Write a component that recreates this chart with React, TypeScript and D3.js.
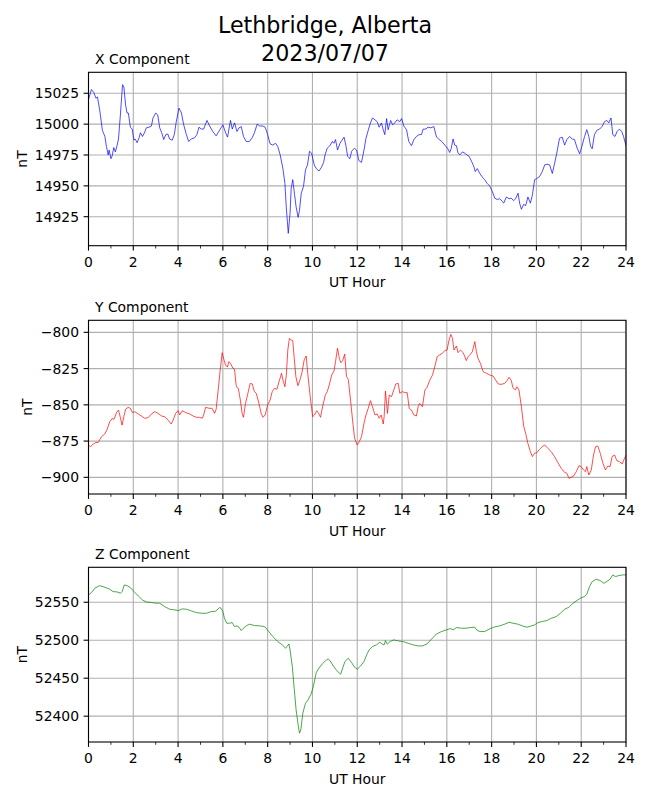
import React from "react";
import * as d3 from "d3";

const WIDTH = 650;
const HEIGHT = 800;

const xHours = [0,0.13,0.24,0.33,0.4,0.5,0.62,0.73,0.8,0.88,0.92,1.0,1.05,1.13,1.2,1.28,1.34,1.43,1.52,1.58,1.66,1.72,1.78,1.87,1.95,2.03,2.08,2.17,2.26,2.32,2.41,2.5,2.58,2.7,2.81,2.88,3.0,3.09,3.18,3.27,3.36,3.45,3.54,3.62,3.74,3.83,3.92,4.04,4.15,4.25,4.37,4.47,4.59,4.74,4.84,4.93,5.04,5.14,5.29,5.41,5.55,5.7,5.85,6.0,6.12,6.21,6.34,6.42,6.52,6.63,6.72,6.82,6.92,7.04,7.19,7.31,7.41,7.53,7.64,7.79,7.89,8.0,8.11,8.23,8.35,8.45,8.56,8.68,8.77,8.83,8.92,9.0,9.05,9.12,9.2,9.27,9.36,9.42,9.5,9.6,9.69,9.78,9.87,9.96,10.08,10.17,10.29,10.4,10.5,10.56,10.66,10.78,10.89,10.96,11.03,11.12,11.23,11.32,11.41,11.5,11.57,11.67,11.75,11.87,11.97,12.07,12.19,12.3,12.39,12.49,12.59,12.68,12.79,12.89,12.98,13.08,13.16,13.23,13.31,13.38,13.49,13.58,13.68,13.78,13.9,13.98,14.08,14.2,14.3,14.42,14.53,14.64,14.76,14.87,14.94,15.06,15.16,15.28,15.42,15.54,15.66,15.77,15.91,16.03,16.13,16.2,16.28,16.35,16.43,16.5,16.58,16.7,16.8,16.9,16.99,17.1,17.2,17.27,17.36,17.47,17.59,17.69,17.8,17.91,18.03,18.14,18.24,18.36,18.47,18.54,18.66,18.78,18.88,18.98,19.07,19.18,19.25,19.33,19.43,19.52,19.62,19.73,19.82,19.92,20.02,20.14,20.26,20.37,20.47,20.59,20.71,20.81,20.92,21.03,21.15,21.26,21.36,21.48,21.6,21.7,21.82,21.93,22.03,22.15,22.25,22.34,22.42,22.49,22.59,22.7,22.82,22.93,23.04,23.14,23.23,23.33,23.41,23.51,23.6,23.71,23.81,23.89,24.0];
const xValues = [15020,15028,15025.5,15021,15022,15011.5,14995,14990,14982,14975,14979,14972,14974,14981,14977.5,14983,14988,15009,15032,15030,15015,15009,15009,14997.5,14996,14987,14988,14985,14989,14993,14990,14993,14997,14997.5,14998.5,15005,15009,15007.5,14997,14993,14987.5,14991.5,14992,14988,14987,14991.5,15002,15013,15009,14999.5,14991.5,14986,14988,14989,14991.5,14997.5,14996,14996,15003,14998.5,14994,14990.5,14995,14999.5,14993,14989.5,15003,14996,15001,14994,14997,14998,14990,14986,14986,14989,14993,15000,14998.5,14998.5,14997.5,14991.5,14984,14983,14984.5,14982,14975,14964,14952,14933,14911.5,14928,14948,14955,14943,14933,14924.5,14930,14944,14949.5,14963,14967,14978,14976.5,14967,14964,14962,14965,14969,14975,14980.5,14982.5,14986,14984.5,14987.5,14979,14984.5,14987,14989.5,14982,14974,14972,14978,14980.5,14979,14970.5,14969,14979,14988.5,14995,15001,15005,15003.5,15002,14997.5,15001,14995.5,14991.5,15004.5,14995.5,15003,14999.5,15001,15003.5,15002,15004.5,14998.5,14995.5,14986,14982.5,14987.5,14990,14991.5,14991.5,14996,14996,14997.5,14997,14998,14989.5,14987.5,14986,14983,14980.5,14977,14980.5,14988,14983,14982.5,14976.5,14975,14977.5,14976.5,14975,14974,14970,14966,14961.5,14964,14960,14957,14955,14952,14950,14945.5,14940,14939,14939.5,14937.5,14936,14941,14939.5,14940,14938,14939.5,14944,14936,14931,14935,14934,14941,14936,14942.5,14955,14956,14957.5,14961.5,14967,14967.5,14967,14960,14968,14977.5,14988.5,14989.5,14983,14987.5,14990,14988,14987.5,14980.5,14976,14982,14990,14995.5,14990,14982,14980,14991.5,14995,14996,14998,15002,15003,15001,15005,14991.5,14990,14994,14996,14994,14990,14982.5];

const yHours = [0,0.09,0.21,0.33,0.43,0.58,0.73,0.83,0.95,1.07,1.14,1.25,1.34,1.43,1.5,1.58,1.66,1.77,1.87,1.96,2.07,2.22,2.36,2.51,2.66,2.81,2.96,3.11,3.26,3.4,3.55,3.69,3.77,3.89,4.0,4.07,4.19,4.34,4.52,4.67,4.81,4.96,5.08,5.14,5.23,5.38,5.52,5.63,5.7,5.79,5.88,5.97,6.05,6.12,6.2,6.27,6.34,6.45,6.52,6.6,6.69,6.78,6.86,6.92,7.01,7.1,7.22,7.31,7.41,7.49,7.61,7.71,7.79,7.89,8.0,8.11,8.2,8.31,8.41,8.53,8.62,8.68,8.77,8.83,8.9,8.97,9.05,9.12,9.18,9.26,9.35,9.45,9.54,9.63,9.72,9.79,9.9,10.01,10.09,10.19,10.28,10.36,10.46,10.57,10.66,10.75,10.86,10.96,11.03,11.12,11.2,11.27,11.35,11.44,11.52,11.6,11.7,11.79,11.88,12.0,12.09,12.19,12.3,12.39,12.49,12.59,12.68,12.79,12.89,12.98,13.07,13.16,13.2,13.26,13.31,13.35,13.43,13.53,13.63,13.72,13.83,13.9,14.02,14.12,14.23,14.32,14.42,14.53,14.64,14.72,14.79,14.91,15.02,15.12,15.24,15.36,15.46,15.57,15.68,15.8,15.91,16.01,16.1,16.18,16.25,16.32,16.43,16.5,16.61,16.73,16.87,16.95,17.05,17.14,17.25,17.32,17.39,17.5,17.62,17.77,17.91,18.06,18.18,18.29,18.43,18.58,18.69,18.78,18.88,18.95,19.06,19.13,19.22,19.33,19.43,19.52,19.62,19.73,19.82,19.92,20.02,20.14,20.26,20.37,20.51,20.66,20.81,20.96,21.11,21.26,21.36,21.45,21.55,21.66,21.78,21.9,22.0,22.1,22.19,22.25,22.34,22.45,22.55,22.64,22.74,22.85,22.97,23.08,23.19,23.29,23.38,23.49,23.59,23.71,23.83,23.89,24.0];
const yValues = [-877.7,-878.9,-877,-876,-876,-872,-870,-867,-861.6,-859.3,-860,-855.4,-853.6,-859.3,-864,-858,-853,-851.7,-852.4,-855.4,-854.7,-856.3,-857.7,-859.3,-858.9,-856.3,-854.7,-855.9,-857.7,-858.2,-860.5,-863.2,-860.9,-855.9,-854,-857,-854,-855.4,-856.3,-857.7,-858.6,-858.6,-859.3,-857,-851.7,-852.4,-852.4,-855.9,-853,-839.8,-826,-814,-819,-822.5,-824,-820.2,-821.4,-824.8,-825.5,-837.5,-838.6,-846.7,-855.9,-858.6,-849,-843.2,-835.2,-835.6,-840.9,-842,-849,-855.9,-858.6,-857,-850,-846.7,-841,-838.6,-839.3,-832.9,-828.3,-832.9,-837.5,-830,-812.2,-804.1,-805.3,-805.7,-816.8,-830.6,-836.8,-832.4,-827.1,-819,-816.3,-828.3,-844.4,-858.2,-857,-854,-855.9,-858.6,-850.8,-843.5,-840.9,-836.3,-829.4,-826.7,-820.2,-811,-818,-821,-819.5,-815,-830.6,-832.4,-846.7,-860.5,-873.1,-877.7,-875.4,-872,-862.8,-857,-852.4,-847.1,-851.3,-857,-856.3,-859.3,-857,-863.2,-858.2,-840.5,-849,-855.9,-843.2,-844.4,-839.8,-835.6,-835.2,-842,-840.9,-841.6,-841.6,-852.4,-853.6,-857,-857.7,-851.3,-849,-851.3,-839.8,-837.9,-832.9,-829.4,-823.7,-816.8,-815.6,-814.5,-812.6,-812.2,-805.3,-801.4,-804.1,-812.2,-809.4,-814,-812.2,-814,-819.5,-816.8,-815.2,-813.3,-806.4,-813.3,-817.9,-821.4,-827.1,-828.3,-829.4,-830.1,-832.9,-835.6,-835.9,-835.2,-833.3,-831,-833.3,-838.2,-839.8,-837.5,-839.8,-851.3,-864.6,-869.7,-876.6,-882.3,-885.7,-883.4,-883,-880.7,-878.9,-877.7,-880,-882.3,-885.7,-889.9,-893.8,-896.6,-897.2,-900.7,-900,-899.1,-896.1,-892,-892.6,-894.9,-896.1,-892.6,-898.4,-894.9,-884.6,-878.9,-878.4,-883.4,-890.3,-894.9,-892.2,-892.6,-885.7,-884.6,-888.5,-889.2,-890.8,-888.5,-884.6];

const zHours = [0,0.13,0.28,0.5,0.73,0.95,1.1,1.28,1.43,1.5,1.6,1.72,1.87,2.03,2.22,2.41,2.58,2.81,3.03,3.18,3.4,3.62,3.85,4.0,4.19,4.37,4.59,4.81,5.04,5.26,5.48,5.68,5.85,5.92,6.0,6.07,6.17,6.29,6.42,6.52,6.63,6.72,6.82,6.92,7.04,7.19,7.41,7.64,7.86,8.05,8.23,8.45,8.65,8.8,8.86,8.95,9.0,9.1,9.19,9.27,9.36,9.42,9.48,9.57,9.69,9.81,9.94,10.04,10.17,10.29,10.44,10.59,10.7,10.78,10.93,11.08,11.26,11.35,11.45,11.6,11.75,11.85,12.0,12.15,12.3,12.42,12.53,12.68,12.86,13.01,13.13,13.2,13.26,13.34,13.46,13.63,13.83,14.05,14.27,14.5,14.72,14.91,15.12,15.31,15.54,15.76,15.98,16.16,16.28,16.43,16.66,16.87,17.05,17.25,17.36,17.5,17.69,17.88,18.09,18.36,18.58,18.78,18.95,19.18,19.37,19.58,19.77,19.92,20.07,20.26,20.47,20.66,20.89,21.07,21.26,21.45,21.63,21.81,21.96,22.15,22.25,22.37,22.49,22.67,22.85,23.01,23.14,23.29,23.41,23.53,23.68,23.86,24.0];
const zValues = [52559.6,52562.7,52568.4,52571.9,52569.7,52567.1,52564,52563.6,52561.8,52564,52572.8,52571.9,52569.3,52564,52558.3,52553,52550.4,52549.6,52548.7,52548.7,52544.3,52540.8,52539.9,52539,52541.2,52540.8,52538.6,52536.4,52535.5,52535.5,52537.7,52538.2,52543,52542.1,52537.7,52528.9,52522.4,52522.4,52523.2,52518,52518.9,52517.1,52512.7,52515.8,52518.9,52521.1,52519.3,52518.9,52518,52511.4,52504.8,52498.2,52493.9,52489.5,52491.7,52495.2,52487.3,52465.4,52434.6,52408.3,52388.6,52377.6,52382,52404,52417.1,52421.5,52429.4,52439,52457.5,52463.2,52468.9,52473.2,52475.4,52473.2,52466.2,52460.1,52455.3,52463.2,52471.9,52476.3,52470.6,52465.4,52461.8,52466.2,52471.9,52480.7,52487.3,52491.7,52493.9,52497.4,52494.7,52493.9,52499.6,52494.7,52498.2,52500.4,52499.1,52498.2,52496,52493.9,52492.5,52492.5,52495.2,52501.3,52508.3,52511.4,52513.6,52515.4,52513.6,52516.7,52515.8,52515.8,52516.7,52517.1,52512.7,52511.4,52511.4,52514.5,52517.1,52518.9,52521.1,52523.7,52522.4,52521.1,52518.9,52517.1,52518.9,52520.2,52523.2,52524.6,52525.9,52528.9,52531.1,52535.5,52540.8,52543.4,52548.7,52552.2,52555.3,52557.5,52560.5,52570.6,52577.2,52580.3,52578.5,52575,52577.2,52580.3,52586,52583.8,52585.1,52586,52586];

const hourTicks = [0, 2, 4, 6, 8, 10, 12, 14, 16, 18, 20, 22, 24];
const hourMinorTicks = [1, 3, 5, 7, 9, 11, 13, 15, 17, 19, 21, 23];
const xTicks = [14925, 14950, 14975, 15000, 15025];
const yTicks = [-900, -875, -850, -825, -800];
const zTicks = [52400, 52450, 52500, 52550];

const TITLE_LINES = ["Lethbridge, Alberta", "2023/07/07"];
const FONT = "DejaVu Sans, sans-serif";

const LEFT = 88.5;
const RIGHT = 626;

type PanelProps = {
  top: number;
  bottom: number;
  domain: [number, number];
  ticks: number[];
  hours: number[];
  values: number[];
  color: string;
  title: string;
  labelX: number;
};

const fmt = (v: number) => (v < 0 ? "\u2212" + Math.abs(v) : String(v));

function Panel({ top, bottom, domain, ticks, hours, values, color, title, labelX }: PanelProps) {
  const x = d3.scaleLinear().domain([0, 24]).range([LEFT, RIGHT]);
  const y = d3.scaleLinear().domain(domain).range([bottom, top]);
  const line = d3
    .line<number>()
    .x((_, i) => x(hours[i]))
    .y((v) => y(v));
  const clipId = "clip-" + title.replace(/\s/g, "");
  return (
    <g>
      <defs>
        <clipPath id={clipId}>
          <rect x={LEFT} y={top} width={RIGHT - LEFT} height={bottom - top} />
        </clipPath>
      </defs>
      {hourTicks.map((h) => (
        <line key={"gx" + h} x1={x(h)} x2={x(h)} y1={top} y2={bottom} stroke="#b0b0b0" strokeWidth={1.1} />
      ))}
      {ticks.map((t) => (
        <line key={"gy" + t} x1={LEFT} x2={RIGHT} y1={y(t)} y2={y(t)} stroke="#b0b0b0" strokeWidth={1.1} />
      ))}
      <path d={line(values) || ""} fill="none" stroke={color} strokeWidth={0.7} clipPath={`url(#${clipId})`} />
      <rect x={LEFT} y={top} width={RIGHT - LEFT} height={bottom - top} fill="none" stroke="#000" strokeWidth={1.1} />
      {hourTicks.map((h) => (
        <g key={"tx" + h}>
          <line x1={x(h)} x2={x(h)} y1={bottom} y2={bottom + 4.9} stroke="#000" strokeWidth={1.1} />
          <text x={x(h)} y={bottom + 21.3} textAnchor="middle" fontSize={13.9} fontFamily={FONT} fill="#000">
            {h}
          </text>
        </g>
      ))}
      {hourMinorTicks.map((h) => (
        <line key={"mx" + h} x1={x(h)} x2={x(h)} y1={bottom} y2={bottom + 2.8} stroke="#000" strokeWidth={0.8} />
      ))}
      {ticks.map((t) => (
        <g key={"ty" + t}>
          <line x1={LEFT - 4.9} x2={LEFT} y1={y(t)} y2={y(t)} stroke="#000" strokeWidth={1.1} />
          <text x={LEFT - 9.5} y={y(t) + 5} textAnchor="end" fontSize={13.9} fontFamily={FONT} fill="#000">
            {fmt(t)}
          </text>
        </g>
      ))}
      <text x={95} y={top - 8} fontSize={13.9} fontFamily={FONT} fill="#000">
        {title}
      </text>
      <text x={(LEFT + RIGHT) / 2} y={bottom + 41.5} textAnchor="middle" fontSize={13.9} fontFamily={FONT} fill="#000">
        UT Hour
      </text>
      <text
        transform={`translate(${labelX},${(top + bottom) / 2}) rotate(-90)`}
        textAnchor="middle"
        fontSize={13.9}
        fontFamily={FONT}
        fill="#000"
      >
        nT
      </text>
    </g>
  );
}

export default function App() {
  return (
    <svg
      width={WIDTH}
      height={HEIGHT}
      style={{ display: "block", background: "#fff", position: "absolute", left: 0, top: 0 }}
    >
      <rect width={WIDTH} height={HEIGHT} fill="#fff" />
      {TITLE_LINES.map((t, i) => (
        <text key={t} x={WIDTH / 2} y={33.3 + i * 27.4} textAnchor="middle" fontSize={22.2} fontFamily={FONT} fill="#000">
          {t}
        </text>
      ))}
      <Panel top={72.3} bottom={245.7} domain={[14901.5, 15042]} ticks={xTicks} hours={xHours} values={xValues} color="#0000ff" title="X Component" labelX={26.5} />
      <Panel top={320.3} bottom={494} domain={[-911.5, -791.7]} ticks={yTicks} hours={yHours} values={yValues} color="#ff0000" title="Y Component" labelX={31.5} />
      <Panel top={567.3} bottom={742} domain={[52366, 52596]} ticks={zTicks} hours={zHours} values={zValues} color="#008000" title="Z Component" labelX={26.5} />
    </svg>
  );
}
